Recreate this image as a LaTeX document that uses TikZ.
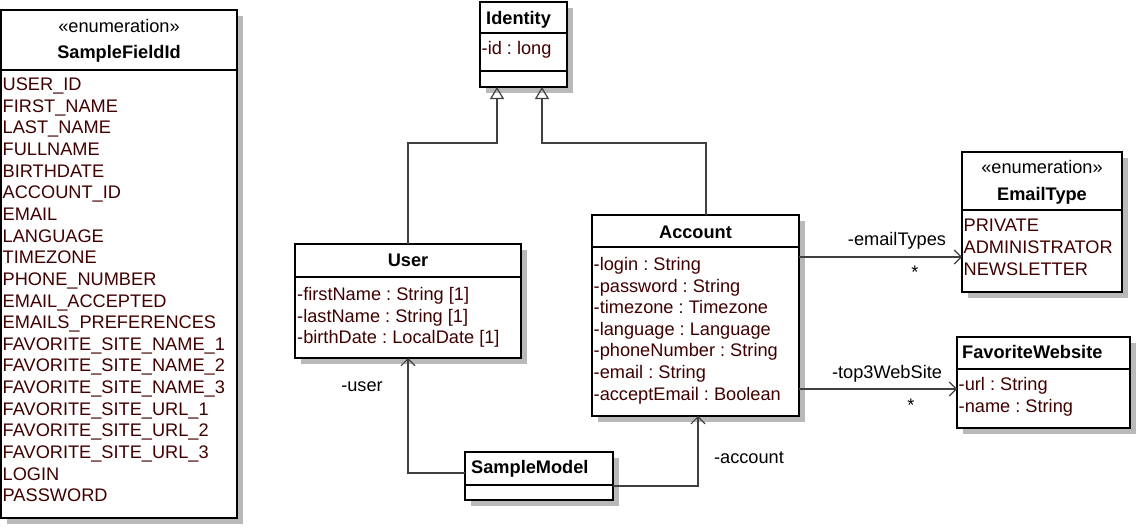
\documentclass[tikz,border=0pt]{standalone}
\usepackage{fontspec}
\setmainfont{Liberation Sans}
\usetikzlibrary{arrows.meta,calc}
\definecolor{itemc}{RGB}{64,0,0}
\definecolor{linec}{RGB}{64,64,64}
\definecolor{shadc}{RGB}{185,185,185}
\pgfdeclarelayer{bg}
\pgfsetlayers{bg,main}
\frenchspacing
\begin{document}
\begin{tikzpicture}[x=1pt,y=-1pt,
 cls/.style={draw=black, line width=1.4pt, fill=white, anchor=north west, inner sep=0pt, outer sep=0pt},
 sep/.style={draw=black, line width=1.4pt},
 hd/.style={font=\fontsize{18.2}{21.6}\selectfont\bfseries, inner sep=0pt, anchor=base},
 st/.style={font=\fontsize{18.2}{21.6}\selectfont, inner sep=0pt, anchor=base},
 item/.style={font=\fontsize{18.2}{21.6}\selectfont, text=itemc, inner sep=0pt, anchor=base west},
 lbl/.style={font=\fontsize{18.2}{21.6}\selectfont, inner sep=0pt, anchor=base},
 gen/.style={draw=linec, line width=1.2pt, -{Triangle[open, length=12pt, width=14pt, line width=1.2pt]}},
 assoc/.style={draw=linec, line width=1.2pt, -{Straight Barb[length=7pt, width=14pt, line width=1.2pt]}}]
\useasboundingbox (0,0) rectangle (1139,527);

% SampleFieldId
\node[cls, minimum width=236pt, minimum height=508pt] (SF) at (1,10) {};
\draw[sep] ($(SF.north west)+(0,60)$) -- ($(SF.north east)+(0,60)$);
\node[st] (sfSt) at (119,33) {«enumeration»};
\node[hd] (sfHd) at (119,59) {SampleFieldId};
\foreach \t [count=\i] in {USER\_ID,FIRST\_NAME,LAST\_NAME,FULLNAME,BIRTHDATE,ACCOUNT\_ID,EMAIL,LANGUAGE,TIMEZONE,PHONE\_NUMBER,EMAIL\_ACCEPTED,EMAILS\_PREFERENCES,FAVORITE\_SITE\_NAME\_1,FAVORITE\_SITE\_NAME\_2,FAVORITE\_SITE\_NAME\_3,FAVORITE\_SITE\_URL\_1,FAVORITE\_SITE\_URL\_2,FAVORITE\_SITE\_URL\_3,LOGIN,PASSWORD}
  \node[item] (sf\i) at (2.5,{90.5+21.65*(\i-1)}) {\t};

% Identity
\node[cls, minimum width=87pt, minimum height=85pt] (Identity) at (480,2) {};
\draw[sep] ($(Identity.north west)+(0,31)$) -- ($(Identity.north east)+(0,31)$);
\draw[sep] ($(Identity.north west)+(0,69)$) -- ($(Identity.north east)+(0,69)$);
\node[hd, anchor=base west] (idHd) at (486,25) {Identity};
\node[item] (id1) at (481.5,55) {-id : long};

% User
\node[cls, minimum width=226pt, minimum height=114pt] (User) at (295,244) {};
\draw[sep] ($(User.north west)+(0,33)$) -- ($(User.north east)+(0,33)$);
\node[hd] (usHd) at (408,266) {User};
\node[item] (us1) at (297,300.7) {-firstName : String [1]};
\node[item] (us2) at (297,322.2) {-lastName : String [1]};
\node[item] (us3) at (297,343.7) {-birthDate : LocalDate [1]};

% Account
\node[cls, minimum width=207pt, minimum height=201pt] (Account) at (592,215) {};
\draw[sep] ($(Account.north west)+(0,32)$) -- ($(Account.north east)+(0,32)$);
\node[hd] (acHd) at (695.5,238.3) {Account};
\foreach \t [count=\i] in {-login : String,-password : String,-timezone : Timezone,-language : Language,-phoneNumber : String,-email : String,-acceptEmail : Boolean}
  \node[item] (ac\i) at (593.5,{270.4+21.6*(\i-1)}) {\t};

% EmailType
\node[cls, minimum width=160pt, minimum height=140pt] (EmailType) at (962,152) {};
\draw[sep] ($(EmailType.north west)+(0,58)$) -- ($(EmailType.north east)+(0,58)$);
\node[st] (etSt) at (1042,173.3) {«enumeration»};
\node[hd] (etHd) at (1042,200) {EmailType};
\node[item] (et1) at (963.5,231.7) {PRIVATE};
\node[item] (et2) at (963.5,253.3) {ADMINISTRATOR};
\node[item] (et3) at (963.5,275) {NEWSLETTER};

% FavoriteWebsite
\node[cls, minimum width=173pt, minimum height=91pt] (FavoriteWebsite) at (957,337) {};
\draw[sep] ($(FavoriteWebsite.north west)+(0,32)$) -- ($(FavoriteWebsite.north east)+(0,32)$);
\node[hd, anchor=base west] (fwHd) at (962,358.3) {FavoriteWebsite};
\node[item] (fw1) at (958.5,390) {-url : String};
\node[item] (fw2) at (958.5,412) {-name : String};

% SampleModel
\node[cls, minimum width=148pt, minimum height=48pt] (SampleModel) at (465,452) {};
\draw[sep] ($(SampleModel.north west)+(0,33)$) -- ($(SampleModel.north east)+(0,33)$);
\node[hd, anchor=base west] (smHd) at (471,473.3) {SampleModel};

% shadows
\begin{pgfonlayer}{bg}
\foreach \n in {SF,Identity,User,Account,EmailType,FavoriteWebsite,SampleModel}
  \fill[shadc] ($(\n.north west)+(6,6)$) rectangle ($(\n.south east)+(6,6)$);
\end{pgfonlayer}

% connectors
\coordinate (idL) at ($(Identity.south west)+(17,0)$);
\coordinate (idR) at ($(Identity.south west)+(62,0)$);
\coordinate (acTop) at ($(Account.north west)+(114,0)$);
\coordinate (acBot) at ($(Account.south west)+(106,0)$);
\coordinate (smL) at ($(SampleModel.north west)+(0,21)$);
\coordinate (smR) at ($(SampleModel.north east)+(0,34)$);
\coordinate (etIn) at ($(EmailType.north west)+(0,105)$);
\coordinate (fwIn) at ($(FavoriteWebsite.north west)+(0,52)$);

\draw[gen] (User.north) -- ++(0,-101) -| (idL);
\draw[gen] (acTop) -- ++(0,-72) -| (idR);
\draw[assoc] (smL) -| (User.south);
\draw[assoc] (smR) -| (acBot);
\draw[assoc] (Account.east |- etIn) -- (etIn);
\draw[assoc] (Account.east |- fwIn) -- (fwIn);

\node[lbl] (lEt) at (897,245) {-emailTypes};
\node[lbl] (sEt) at (915,278) {*};
\node[lbl] (lFw) at (887,378.3) {-top3WebSite};
\node[lbl] (sFw) at (911,411) {*};
\node[lbl] (lUs) at (362,391) {-user};
\node[lbl] (lAc) at (749,463) {-account};
\end{tikzpicture}
\end{document}
